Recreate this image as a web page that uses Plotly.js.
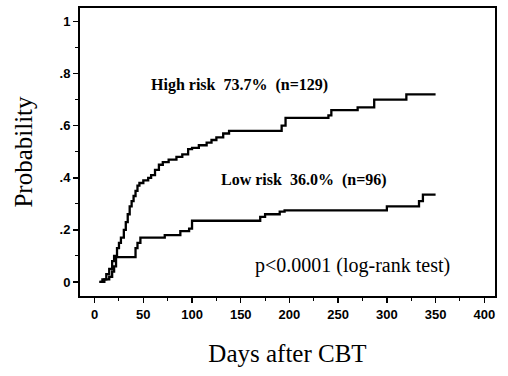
<!DOCTYPE html>
<html>
<head>
<meta charset="utf-8">
<script src="https://cdn.plot.ly/plotly-3.0.1.min.js"></script>
<style>html,body{margin:0;padding:0;background:#fff;}#chart{width:508px;height:376px;}</style>
</head>
<body>
<div id="chart"></div>
<script>
// High risk group (cumulative probability, step function)
const highDays = [5, 8, 12, 15, 18, 20, 23, 25, 27, 30, 32, 34, 36, 38, 40, 42, 44, 46, 50, 55, 58, 62, 66, 70, 76, 84, 90, 96, 100, 107, 115, 120, 125, 132, 138, 192, 196, 240, 243, 270, 287, 320, 350];
const highProb = [0, 0.01, 0.03, 0.05, 0.08, 0.10, 0.13, 0.15, 0.17, 0.20, 0.23, 0.26, 0.29, 0.31, 0.33, 0.35, 0.37, 0.38, 0.39, 0.40, 0.41, 0.43, 0.45, 0.46, 0.47, 0.48, 0.49, 0.51, 0.515, 0.525, 0.535, 0.545, 0.555, 0.57, 0.58, 0.60, 0.63, 0.64, 0.66, 0.67, 0.70, 0.72, 0.72];
// Low risk group
const lowDays = [5, 10, 15, 18, 20, 22, 42, 44, 47, 52, 72, 88, 97, 100, 170, 175, 190, 195, 300, 333, 337, 350];
const lowProb = [0, 0.01, 0.02, 0.04, 0.06, 0.095, 0.13, 0.15, 0.17, 0.17, 0.18, 0.195, 0.205, 0.235, 0.25, 0.26, 0.27, 0.275, 0.29, 0.31, 0.335, 0.335];

const xTickVals = [0, 50, 100, 150, 200, 250, 300, 350, 400];
const yTickVals = [0, 0.2, 0.4, 0.6, 0.8, 1];
const yTickText = ['0', '.2', '.4', '.6', '.8', '1'];

const labels = ['High risk  73.7%  (n=129)', 'Low risk  36.0%  (n=96)', 'p&lt;0.0001 (log-rank test)'];
const labelX = [149, 215, 265];
const labelY = [0.756, 0.39, 0.065];
const labelSize = [16, 16, 20];
const labelWeight = ['bold', 'bold', 'normal'];

const serif = 'Liberation Serif, Times New Roman, serif';
const sans = 'Liberation Sans, Arial, sans-serif';

const traces = [
  {x: highDays, y: highProb, mode: 'lines', line: {shape: 'hv', color: '#000', width: 2.3}, name: 'High risk'},
  {x: lowDays, y: lowProb, mode: 'lines', line: {shape: 'hv', color: '#000', width: 2.3}, name: 'Low risk'}
];

const annotations = labels.map((t, i) => ({
  x: labelX[i], y: labelY[i], xref: 'x', yref: 'y', text: t, showarrow: false,
  font: {family: serif, size: labelSize[i], color: '#000', weight: labelWeight[i]},
  xanchor: 'center', yanchor: 'middle'
}));

const layout = {
  width: 508, height: 376,
  margin: {l: 80, r: 13, t: 8, b: 80},
  paper_bgcolor: '#fff', plot_bgcolor: '#fff',
  showlegend: false,
  xaxis: {
    range: [-15, 411], showgrid: false, zeroline: false,
    showline: true, mirror: true, linecolor: '#000', linewidth: 2,
    ticks: 'outside', ticklen: 5, tickwidth: 1.5, tickcolor: '#000',
    tickvals: xTickVals,
    tickfont: {family: sans, size: 13, color: '#000', weight: 'bold'},
    minor: {dtick: 25, tick0: 0, ticks: 'outside', ticklen: 3, tickcolor: '#000', tickwidth: 1},
    title: {text: 'Days after CBT', font: {family: serif, size: 25, color: '#000'}, standoff: 24}
  },
  yaxis: {
    range: [-0.054, 1.052], showgrid: false, zeroline: false,
    showline: true, mirror: true, linecolor: '#000', linewidth: 2,
    ticks: 'outside', ticklen: 5, tickwidth: 1.5, tickcolor: '#000',
    tickvals: yTickVals, ticktext: yTickText,
    tickfont: {family: sans, size: 13, color: '#000', weight: 'bold'},
    minor: {dtick: 0.1, tick0: 0, ticks: 'outside', ticklen: 3, tickcolor: '#000', tickwidth: 1},
    title: {text: 'Probability', font: {family: serif, size: 25, color: '#000'}, standoff: 20}
  },
  annotations: annotations
};

Plotly.newPlot('chart', traces, layout, {displayModeBar: false, staticPlot: true});
</script>
</body>
</html>
